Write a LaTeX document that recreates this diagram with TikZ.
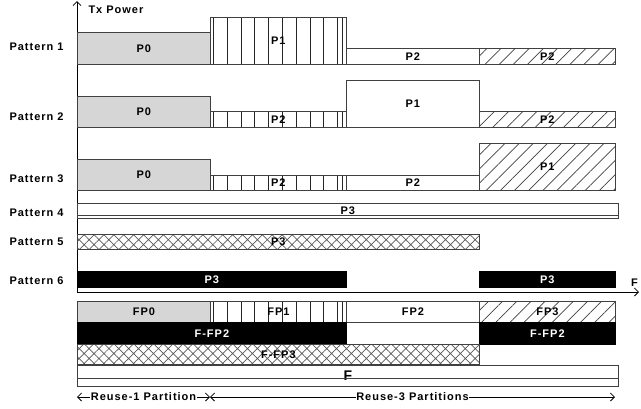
\documentclass[tikz,border=0pt]{standalone}
\usepackage{fontspec}
\setmainfont{Liberation Sans}[LetterSpace=9]
\usetikzlibrary{positioning,arrows.meta,patterns.meta}

\begin{document}
\begin{tikzpicture}[
  x=1pt, y=-1pt,
  font=\fontsize{11}{13}\selectfont\bfseries,
  >={Straight Barb[length=4pt,width=8pt,line width=0.8pt]},
  blk/.style={draw=black!75, line width=0.8pt, inner sep=0pt, anchor=south west},
  grey/.style={blk, fill=black!16},
  plain/.style={blk, fill=white},
  vbars/.style={blk, fill=white, path picture={
      \foreach \k in {0,...,9}{
        \draw[black!85, line width=0.8pt]
          ([xshift=3pt+\k*13.8pt]path picture bounding box.south west) --
          ([xshift=3pt+\k*13.8pt]path picture bounding box.north west);}
      \draw[black!85, line width=0.8pt]
          ([xshift=-4pt]path picture bounding box.south east) --
          ([xshift=-4pt]path picture bounding box.north east);}},
  slant/.style={blk, pattern={Lines[angle=45,distance=10pt,line width=0.7pt]},
                pattern color=black!75},
  cross/.style={blk, pattern={Hatch[angle=45,distance=7pt,line width=0.7pt]},
                pattern color=black!65},
  solid/.style={blk, draw=black, fill=black, text=white},
  axis/.style={->, line width=0.8pt},
  span/.style={<->, line width=0.8pt},
]
  \useasboundingbox (0,0) rectangle (641,408);

  % axes
  \coordinate (orig) at (77,292);
  \coordinate (ytop) at (77,1);
  \coordinate (xend) at (639,292);
  \draw[axis] (orig) -- (ytop);
  \draw[axis] (orig) -- (xend);
  \node[anchor=west] (txp) at (85,10) {Tx Power};
  \node[anchor=west, inner sep=0pt] (flab) at (631,283) {F};

  % row labels
  \node[anchor=west] (lab1) at (6,47) {Pattern 1};
  \node[anchor=west] (lab2) at (6,117) {Pattern 2};
  \node[anchor=west] (lab3) at (6,179) {Pattern 3};
  \node[anchor=west] (lab4) at (6,213) {Pattern 4};
  \node[anchor=west] (lab5) at (6,242) {Pattern 5};
  \node[anchor=west] (lab6) at (6,281) {Pattern 6};

  % pattern 1
  \node[grey, minimum width=133pt, minimum height=32pt] (p1a) at (77,65) {P0};
  \node[vbars, minimum width=136pt, minimum height=47pt] (p1b) at (210,65) {P1};
  \node[plain, minimum width=133pt, minimum height=16pt] (p1c) at (346,65) {P2};
  \node[slant, minimum width=136pt, minimum height=16pt] (p1d) at (479,65) {P2};

  % pattern 2
  \node[grey, minimum width=133pt, minimum height=31pt] (p2a) at (77,128) {P0};
  \node[vbars, minimum width=136pt, minimum height=16pt] (p2b) at (210,128) {P2};
  \node[plain, minimum width=133pt, minimum height=47pt] (p2c) at (346,128) {P1};
  \node[slant, minimum width=136pt, minimum height=16pt] (p2d) at (479,128) {P2};

  % pattern 3
  \node[grey, minimum width=133pt, minimum height=31pt] (p3a) at (77,191) {P0};
  \node[vbars, minimum width=136pt, minimum height=15pt] (p3b) at (210,191) {P2};
  \node[plain, minimum width=133pt, minimum height=15pt] (p3c) at (346,191) {P2};
  \node[slant, minimum width=136pt, minimum height=47pt] (p3d) at (479,191) {P1};

  % patterns 4 to 6
  \node[plain, minimum width=541pt, minimum height=15pt] (p4) at (77,219) {P3};
  \draw[black!75, line width=0.8pt] (p4.west |- 0,215) -- (p4.east |- 0,215);
  \node[cross, minimum width=402pt, minimum height=15pt] (p5) at (77,250) {P3};
  \node[solid, minimum width=269pt, minimum height=16pt] (p6a) at (77,288) {P3};
  \node[solid, minimum width=136pt, minimum height=16pt] (p6b) at (479,288) {P3};

  % frequency partitions
  \node[grey, minimum width=133pt, minimum height=21pt] (fp0) at (77,323) {FP0};
  \node[vbars, minimum width=136pt, minimum height=21pt] (fp1) at (210,323) {FP1};
  \node[plain, minimum width=133pt, minimum height=21pt] (fp2) at (346,323) {FP2};
  \node[slant, minimum width=136pt, minimum height=21pt] (fp3) at (479,323) {FP3};
  \node[solid, minimum width=269pt, minimum height=22pt] (ff2a) at (77,345) {F-FP2};
  \node[solid, minimum width=136pt, minimum height=22pt] (ff2b) at (479,345) {F-FP2};
  \node[cross, minimum width=402pt, minimum height=20pt] (ff3) at (77,365) {F-FP3};
  \node[plain, minimum width=541pt, minimum height=21pt,
        font=\fontsize{14}{16}\selectfont\bfseries] (full) at (77,387) {F};
  \draw[black!75, line width=0.8pt] (full.west |- 0,378) -- (full.east |- 0,378);

  % reuse spans
  \coordinate (r0) at (77,397);
  \coordinate (r1) at (210,397);
  \coordinate (r2) at (615,397);
  \draw[span] (r0) -- node[fill=white, inner sep=0.5pt] (reuse1) {Reuse-1 Partition} (r1);
  \draw[span] (r1) -- node[fill=white, inner sep=0.5pt] (reuse3) {Reuse-3 Partitions} (r2);
\end{tikzpicture}
\end{document}
